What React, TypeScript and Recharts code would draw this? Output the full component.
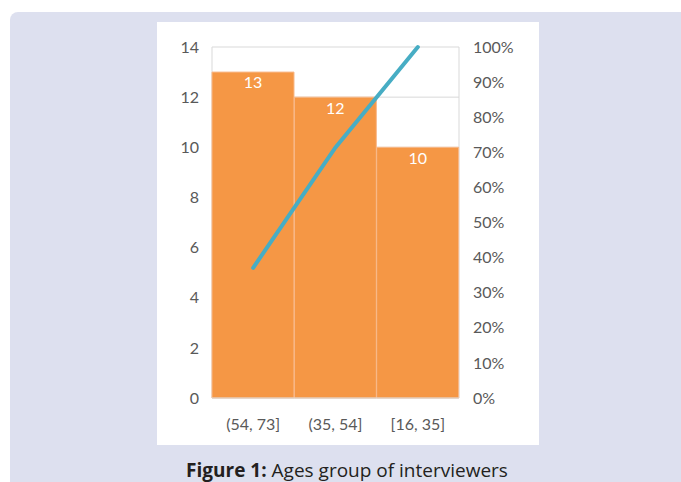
import { Bar, CartesianGrid, ComposedChart, LabelList, Line, XAxis, YAxis } from "recharts"

const ageGroups = ["(54, 73]", "(35, 54]", "[16, 35]"]
const counts = [13, 12, 10]
const cumulativeShare = [0.371, 0.714, 1.0]
const countTicks = [0, 2, 4, 6, 8, 10, 12, 14]
const shareTicks = [0, 0.1, 0.2, 0.3, 0.4, 0.5, 0.6, 0.7, 0.8, 0.9, 1.0]

const data = ageGroups.map((name, i) => ({
  name,
  count: counts[i],
  share: cumulativeShare[i],
}))

const tickStyle = { fill: "#595959", fontSize: 16, fontFamily: "Lato" }

export default function App() {
  return (
    <div style={{ position: "absolute", left: 0, top: 0, width: 681, height: 482, overflow: "hidden", background: "#fff" }}>
      <div
        style={{
          position: "absolute",
          left: 10,
          top: 12,
          width: 690,
          height: 490,
          borderRadius: 8,
          background: "#dde0ef",
        }}
      />
      <div style={{ position: "absolute", left: 157, top: 22, width: 382, height: 423, background: "#fff" }}>
        <ComposedChart
          width={382}
          height={423}
          data={data}
          barCategoryGap={0}
          margin={{ top: 25, right: 20, bottom: 17, left: 15 }}
        >
          <CartesianGrid
            stroke="#d9d9d9"
            yAxisId="left"
            verticalCoordinatesGenerator={({ offset }: any) => [offset.left, offset.left + offset.width]}
          />
          <XAxis
            dataKey="name"
            axisLine={{ stroke: "#d9d9d9" }}
            tickLine={false}
            tick={tickStyle}
            tickMargin={15}
            height={30}
          />
          <YAxis
            yAxisId="left"
            domain={[0, 14]}
            ticks={countTicks}
            axisLine={false}
            tickLine={false}
            tick={tickStyle}
            tickMargin={7}
            width={40}
          />
          <YAxis
            yAxisId="right"
            orientation="right"
            domain={[0, 1]}
            ticks={shareTicks}
            tickFormatter={(v) => `${Math.round(v * 100)}%`}
            axisLine={false}
            tickLine={false}
            tick={{ ...tickStyle, textAnchor: "start" }}
            tickMargin={8}
            width={60}
          />
          <Bar yAxisId="left" dataKey="count" fill="#f59745" stroke="#f8b98a" strokeWidth={1} isAnimationActive={false}>
            <LabelList dataKey="count" position="insideTop" offset={5} fill="#ffffff" fontSize={16} fontFamily="Lato" />
          </Bar>
          <Line
            yAxisId="right"
            dataKey="share"
            stroke="#47adc4"
            strokeWidth={4}
            strokeLinecap="round"
            dot={false}
            type="linear"
            isAnimationActive={false}
          />
        </ComposedChart>
      </div>
      <div
        style={{
          position: "absolute",
          left: 0,
          width: 694,
          top: 457,
          textAlign: "center",
          fontFamily: "Open Sans",
          fontSize: 19,
          color: "#231f20",
          whiteSpace: "nowrap",
        }}
      >
        <b>Figure 1:</b> Ages group of interviewers
      </div>
    </div>
  )
}
